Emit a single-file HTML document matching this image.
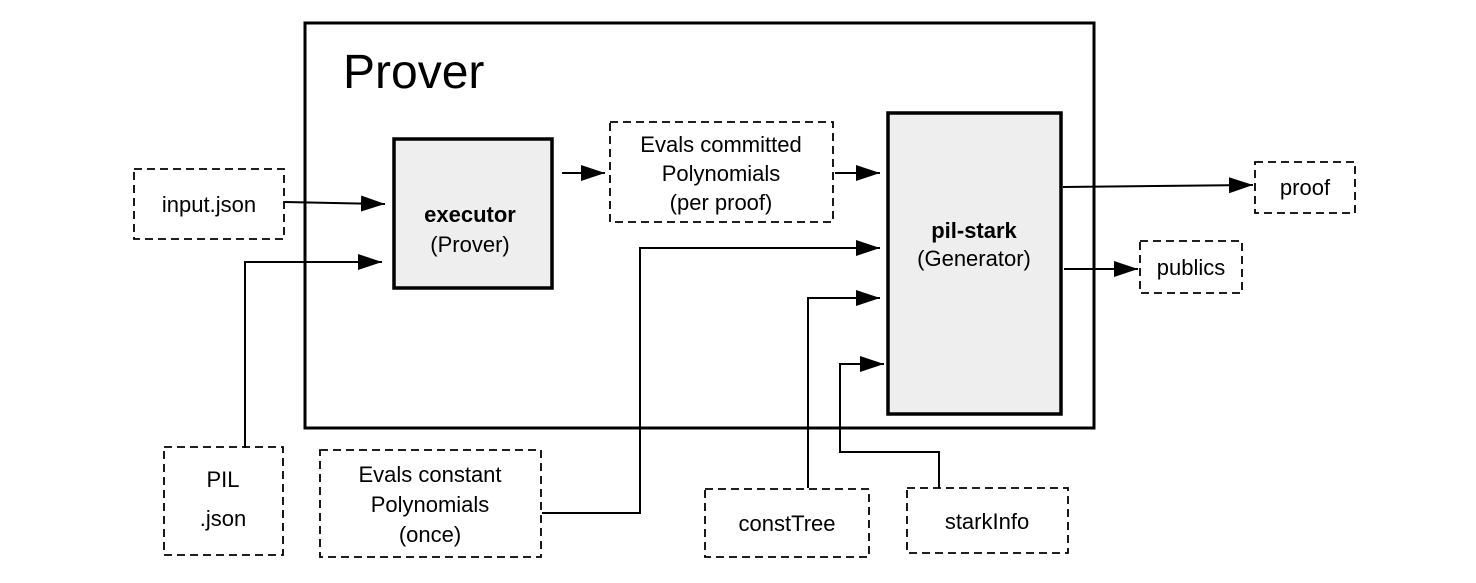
<!DOCTYPE html>
<html><head><style>body{margin:0;background:#fff}svg{display:block}</style></head><body>
<svg width="1476" height="583" viewBox="0 0 1476 583" xmlns="http://www.w3.org/2000/svg" font-family="Liberation Sans, sans-serif">
<defs>
<marker id="b" viewBox="0 0 24 16" refX="24" refY="8" markerWidth="24" markerHeight="16" orient="auto" markerUnits="userSpaceOnUse"><path d="M0,0L24,8L0,16z" fill="#000"/></marker></defs>
<rect x="305" y="23" width="789" height="405" fill="none" stroke="#000" stroke-width="3"/>
<text x="343" y="88" font-size="48">Prover</text>
<rect x="394" y="139" width="158" height="149" fill="#eee" stroke="#000" stroke-width="3.5"/>
<text x="470" y="222" font-size="22" font-weight="bold" text-anchor="middle">executor</text>
<text x="470" y="252" font-size="22" text-anchor="middle">(Prover)</text>
<rect x="888" y="113" width="173" height="301" fill="#eee" stroke="#000" stroke-width="3.5"/>
<text x="974" y="238" font-size="22" font-weight="bold" text-anchor="middle">pil-stark</text>
<text x="974" y="266" font-size="22" text-anchor="middle">(Generator)</text>
<g fill="#fff" stroke="#000" stroke-width="1.8" stroke-dasharray="8,5">
<rect x="610" y="122" width="223" height="100"/>
<rect x="134" y="169" width="150" height="70"/>
<rect x="164" y="447" width="119" height="108"/>
<rect x="320" y="450" width="221" height="107"/>
<rect x="705" y="489" width="164" height="68"/>
<rect x="907" y="488" width="161" height="65"/>
<rect x="1255" y="162" width="100" height="51"/>
<rect x="1140" y="241" width="102" height="52"/>
</g>
<g font-size="22" text-anchor="middle">
<text x="721" y="152">Evals committed</text><text x="721" y="181">Polynomials</text><text x="721" y="210">(per proof)</text>
<text x="209" y="212">input.json</text>
<text x="223" y="487">PIL</text><text x="223" y="526">.json</text>
<text x="430" y="482">Evals constant</text><text x="430" y="512">Polynomials</text><text x="430" y="542">(once)</text>
<text x="787" y="531">constTree</text>
<text x="987" y="529">starkInfo</text>
<text x="1305" y="195">proof</text>
<text x="1191" y="275">publics</text>
</g>
<g fill="none" stroke="#000" stroke-width="2">
<path d="M285,202L385,204" marker-end="url(#b)"/>
<path d="M245,448V262H382" marker-end="url(#b)"/>
<path d="M562,173H605" marker-end="url(#b)"/>
<path d="M835,173H880" marker-end="url(#b)"/>
<path d="M542,513H640V248H880" marker-end="url(#b)"/>
<path d="M808,488V298H880" marker-end="url(#b)"/>
<path d="M939,488V452H840V364H884" marker-end="url(#b)"/>
<path d="M1063,187L1253,185" marker-end="url(#b)"/>
<path d="M1064,269H1138" marker-end="url(#b)"/>
</g>
</svg>
</body></html>
